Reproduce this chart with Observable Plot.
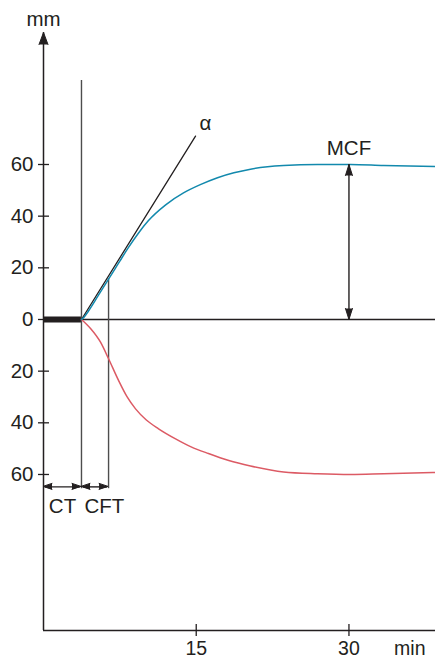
<!DOCTYPE html>
<html><head><meta charset="utf-8">
<script src="https://cdn.jsdelivr.net/npm/d3@7"></script>
<script src="https://cdn.jsdelivr.net/npm/@observablehq/plot@0.6"></script>
<style>body{margin:0;background:#fff}#chart svg{display:block}</style>
</head><body><div id="chart"></div>
<script>
// ---- data ----
const blueTime = [3.73, 4.0, 4.42, 5.40, 6.39, 7.04, 7.53, 8.35, 9.3, 10.31, 12.0, 13.75, 15.4, 17.09, 18.7, 20.33, 22.0, 23.58, 26.9, 30.16, 33.4, 38.5];
const blueAmp  = [0, 1.0, 3.3, 9.4, 15.6, 19.7, 22.8, 27.9, 33.3, 38.3, 44.4, 49.0, 52.2, 54.9, 56.8, 58.2, 59.1, 59.6, 60.0, 60.0, 59.6, 59.2];
const redTime  = [3.73, 4.62, 5.6, 6.39, 7.37, 8.2, 9.04, 10.1, 11.3, 12.97, 14.5, 16.2, 18.2, 20.33, 23.58, 26.9, 30.16, 33.4, 38.5];
const redAmp   = [0, -3.5, -8.8, -15.2, -23.6, -29.9, -34.6, -38.9, -42.3, -46.2, -49.3, -51.9, -54.6, -56.7, -59.0, -59.7, -60.0, -59.7, -59.2];
const yTicks = [60, 40, 20, 0, -20, -40, -60];
const xTicks = [15, 30];
const xUnit = "min";
const yUnit = "mm";
const ctTime = 3.73;
const cftTime = 6.39;
const mcfTime = 30;
const mcfAmp = 60;
const alphaEndTime = 14.93;
const alphaEndAmp = 71;
const ctLineTop = 92.5;
const measureAmp = -64.8;
const measureLineBottom = -65.5;
const labelCT = "CT", labelCFT = "CFT", labelMCF = "MCF", labelAlpha = "α";

// ---- scales & styles ----
const xDomain = [0, 38.5];
const yDomain = [-120.4, 111.1];
const ink = "#231f20";
const grayInk = "#4d4d4d";
const blue = "#1289ad";
const red = "#dc5a64";
const fs = 20.5;
const fsBottom = 19.5;

const blueData = blueTime.map((t, i) => ({t, a: blueAmp[i]}));
const redData = redTime.map((t, i) => ({t, a: redAmp[i]}));
const alphaData = [{t: ctTime, a: 0}, {t: alphaEndTime, a: alphaEndAmp}];
const cftTop = blueAmp[blueTime.indexOf(cftTime)];
const spans = [{t1: 0, t2: ctTime}, {t1: ctTime, t2: cftTime}];
const spanHeads = [
  {t: 0, rot: -90, dx: 2}, {t: ctTime, rot: 90, dx: -1},
  {t: ctTime, rot: -90, dx: 1}, {t: cftTime, rot: 90, dx: -1}
];
const mcfHeads = [{a: mcfAmp, rot: 0}, {a: 0, rot: 180}];

const chart = Plot.plot({
  width: 435, height: 660,
  marginLeft: 43, marginRight: 0, marginTop: 32, marginBottom: 30,
  x: {domain: xDomain, axis: null},
  y: {domain: yDomain, axis: null},
  style: {fontFamily: "'Liberation Sans', Arial, sans-serif", fontSize: fs + "px", color: ink, background: "white"},
  marks: [
    // axes
    Plot.ruleX([0], {x: d => d, stroke: ink, strokeWidth: 1.5}),
    Plot.ruleY([yDomain[0]], {y: d => d, stroke: ink, strokeWidth: 1.5}),
    Plot.vector([0], {x: d => d, frameAnchor: "top", shape: "spike", anchor: "end", rotate: 0, length: 12, r: 4.5, fill: ink, stroke: ink, strokeWidth: 1}),
    Plot.ruleY(yTicks, {y: d => d, x1: () => 0, x2: () => 0, insetLeft: -5, insetRight: -6, stroke: ink, strokeWidth: 1.3}),
    Plot.text(yTicks, {x: () => 0, y: d => d, text: d => String(Math.abs(d)), textAnchor: "end", dx: -10, fill: ink, fontSize: fs}),
    Plot.ruleX(xTicks, {x: d => d, y1: () => yDomain[0], y2: () => yDomain[0], insetTop: -6, insetBottom: -6, stroke: ink, strokeWidth: 1.3}),
    Plot.text(xTicks, {x: d => d, frameAnchor: "bottom", lineAnchor: "middle", dy: 18.5, text: d => String(d), fill: ink, fontSize: fsBottom}),
    Plot.text([xUnit], {frameAnchor: "bottom-right", lineAnchor: "middle", textAnchor: "end", dx: -10, dy: 18.5, text: d => d, fill: ink, fontSize: fsBottom}),
    Plot.text([yUnit], {x: () => 0, frameAnchor: "top", lineAnchor: "middle", dy: -13, text: d => d, fill: ink, fontSize: fs}),
    // baseline & lag bar
    Plot.ruleY([0], {y: d => d, stroke: ink, strokeWidth: 1.5}),
    Plot.ruleY([0], {y: d => d, x1: () => 0, x2: () => ctTime, stroke: ink, strokeWidth: 6}),
    // CT / CFT vertical lines
    Plot.ruleX([ctTime], {x: d => d, y1: () => measureLineBottom, y2: () => ctLineTop, stroke: grayInk, strokeWidth: 1.4}),
    Plot.ruleX([cftTime], {x: d => d, y1: () => measureLineBottom, y2: () => cftTop, stroke: grayInk, strokeWidth: 1.4}),
    // alpha tangent
    Plot.line(alphaData, {x: "t", y: "a", stroke: ink, strokeWidth: 1.3}),
    // curves
    Plot.line(redData, {x: "t", y: "a", curve: "monotone-x", stroke: red, strokeWidth: 1.5}),
    Plot.line(blueData, {x: "t", y: "a", curve: "monotone-x", stroke: blue, strokeWidth: 1.5}),
    // MCF arrow
    Plot.ruleX([mcfTime], {x: d => d, y1: () => 0, y2: () => mcfAmp, stroke: ink, strokeWidth: 1.4}),
    Plot.vector(mcfHeads, {x: () => mcfTime, y: "a", rotate: "rot", shape: "spike", anchor: "end", length: 11, r: 3.5, fill: ink, stroke: ink, strokeWidth: 1}),
    Plot.text([labelMCF], {x: () => mcfTime, y: () => mcfAmp, dy: -16, text: d => d, fill: ink, fontSize: fs}),
    // CT / CFT arrows
    Plot.ruleY(spans, {y: () => measureAmp, x1: "t1", x2: "t2", insetLeft: 2, insetRight: 1, stroke: ink, strokeWidth: 1.4}),
    Plot.vector(spanHeads, {x: "t", y: () => measureAmp, dx: "dx", rotate: "rot", shape: "spike", anchor: "end", length: 9, r: 3, fill: ink, stroke: ink, strokeWidth: 1}),
    Plot.text([labelCT], {x: () => ctTime / 2, y: () => measureAmp, dy: 20, text: d => d, fill: ink, fontSize: fs}),
    Plot.text([labelCFT], {x: () => ctTime, y: () => measureAmp, dy: 20, dx: 3, textAnchor: "start", text: d => d, fill: ink, fontSize: fs}),
    // alpha label
    Plot.text([labelAlpha], {x: () => alphaEndTime, y: () => alphaEndAmp, dx: 10, dy: -13, text: d => d, fill: ink, fontSize: fs})
  ]
});
document.getElementById("chart").append(chart);
</script>
</body></html>
